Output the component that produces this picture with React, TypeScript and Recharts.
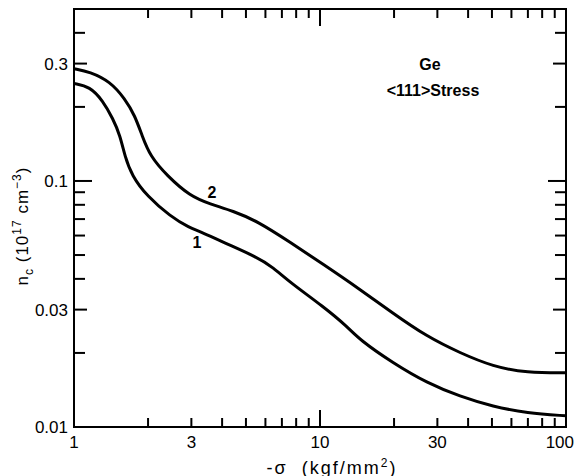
import React from 'react';
import { LineChart, Line, XAxis, YAxis, ReferenceArea } from 'recharts';

// values (log-log)
const curve1 = [
  { s: 1, n: 0.249 }, { s: 1.16, n: 0.242 }, { s: 1.31, n: 0.212 }, { s: 1.44, n: 0.179 },
  { s: 1.54, n: 0.153 }, { s: 1.61, n: 0.126 }, { s: 1.72, n: 0.105 }, { s: 1.98, n: 0.0868 },
  { s: 2.46, n: 0.0719 }, { s: 2.96, n: 0.0643 }, { s: 3.25, n: 0.0625 }, { s: 4.03, n: 0.0564 },
  { s: 5.55, n: 0.049 }, { s: 6.44, n: 0.0446 }, { s: 7.55, n: 0.0387 }, { s: 10.3, n: 0.0309 },
  { s: 12.9, n: 0.0256 }, { s: 14.5, n: 0.0226 }, { s: 19.8, n: 0.0182 }, { s: 27.2, n: 0.0151 },
  { s: 37.1, n: 0.0133 }, { s: 50.5, n: 0.0121 }, { s: 69.4, n: 0.0114 }, { s: 100, n: 0.0111 },
];

const curve2 = [
  { s: 1, n: 0.286 }, { s: 1.16, n: 0.278 }, { s: 1.4, n: 0.254 }, { s: 1.61, n: 0.216 },
  { s: 1.77, n: 0.184 }, { s: 1.89, n: 0.153 }, { s: 2.04, n: 0.126 }, { s: 2.39, n: 0.105 },
  { s: 2.96, n: 0.0868 }, { s: 3.57, n: 0.0806 }, { s: 4.43, n: 0.0755 }, { s: 5.55, n: 0.0687 },
  { s: 7.55, n: 0.0564 }, { s: 10.3, n: 0.0459 }, { s: 14.3, n: 0.0367 }, { s: 19.6, n: 0.0292 },
  { s: 27.2, n: 0.0233 }, { s: 37.1, n: 0.02 }, { s: 50.5, n: 0.0176 }, { s: 69.4, n: 0.0166 },
  { s: 100, n: 0.0166 },
];

// text placed at data positions
const notes = [
  { s: 3.16, n: 0.0564, text: '1' },
  { s: 3.64, n: 0.0902, text: '2' },
  { s: 28, n: 0.3, text: 'Ge' },
  { s: 28.8, n: 0.235, text: '<111>Stress' },
];

const xTicks = [1, 2, 3, 4, 5, 6, 7, 8, 9, 10, 20, 30, 40, 50, 60, 70, 80, 90, 100];
const xLabels = [1, 3, 10, 30, 100];
const yTicks = [0.01, 0.02, 0.03, 0.04, 0.05, 0.06, 0.07, 0.08, 0.09, 0.1, 0.2, 0.3, 0.4];
const yLabels = [0.01, 0.03, 0.1, 0.3];

const X_MIN = 1, X_MAX = 100, Y_MIN = 0.01, Y_MAX = 0.5;

// one table on the shared x values, so every series reads the chart data
const sValues = Array.from(new Set([...curve1, ...curve2, ...notes].map((p) => p.s))).sort((a, b) => a - b);
const table = sValues.map((s) => {
  const p1 = curve1.find((p) => p.s === s);
  const p2 = curve2.find((p) => p.s === s);
  const pn = notes.find((p) => p.s === s);
  return { s, c1: p1 ? p1.n : null, c2: p2 ? p2.n : null, note: pn ? pn.n : null, text: pn ? pn.text : '' };
});

const FONT = '"Liberation Sans", Arial, sans-serif';

const isDecade = (v: number) => Math.abs(Math.log10(v) - Math.round(Math.log10(v))) < 1e-6;
const xLen = (v: number) => (isDecade(v) ? 17 : 9);
const yLen = (v: number) => (isDecade(v) ? 18 : yLabels.includes(v) ? 13 : 11);

// inward ticks on all four sides
const bottomTick = (props: any) => {
  const x = Number(props.x);
  const y = Number(props.y);
  const v = props.payload.value;
  return (
    <g>
      <path d={`M${x},${y}L${x},${y - xLen(v)}`} stroke="#000" strokeWidth={2} fill="none" />
      {xLabels.includes(v) ? (
        <text x={v === 100 ? x + 8 : x} y={y + 21} textAnchor={v === 100 ? 'end' : 'middle'}
          fontSize={17} fontFamily={FONT} fill="#000">{v}</text>
      ) : null}
    </g>
  );
};

const topTick = (props: any) => {
  const x = Number(props.x);
  const y = Number(props.y);
  const v = props.payload.value;
  return <path d={`M${x},${y}L${x},${y + xLen(v)}`} stroke="#000" strokeWidth={2} fill="none" />;
};

const leftTick = (props: any) => {
  const x = Number(props.x);
  const y = Number(props.y);
  const v = props.payload.value;
  return (
    <g>
      <path d={`M${x},${y}L${x + yLen(v)},${y}`} stroke="#000" strokeWidth={2} fill="none" />
      {yLabels.includes(v) ? (
        <text x={x - 6} y={y + 6} textAnchor="end" fontSize={17} fontFamily={FONT} fill="#000">{v}</text>
      ) : null}
    </g>
  );
};

const rightTick = (props: any) => {
  const x = Number(props.x);
  const y = Number(props.y);
  const v = props.payload.value;
  return <path d={`M${x},${y}L${x - yLen(v)},${y}`} stroke="#000" strokeWidth={2} fill="none" />;
};

const NoteDot = (props: any) => {
  const { cx, cy, payload } = props;
  if (!payload || !payload.text || cx == null || cy == null) return <g />;
  return (
    <text x={cx} y={cy + 6} textAnchor="middle" fontSize={16} fontWeight="bold"
      fontFamily={FONT} fill="#000">{payload.text}</text>
  );
};

export default function App() {
  return (
    <div style={{ position: 'absolute', left: 0, top: 0, width: 574, height: 476, background: '#fff' }}>
      <LineChart width={574} height={476} data={table} margin={{ top: 8, right: 7, bottom: 19, left: 0 }}>
        <XAxis dataKey="s" type="number" scale="log" domain={[X_MIN, X_MAX]} allowDataOverflow
          ticks={xTicks} interval={0} tickSize={0} tickMargin={0} tickLine={false}
          tick={bottomTick} height={30} axisLine={false} />
        <XAxis xAxisId="top" orientation="top" dataKey="s" type="number" scale="log"
          domain={[X_MIN, X_MAX]} allowDataOverflow ticks={xTicks} interval={0} tickSize={0}
          tickMargin={0} tickLine={false} tick={topTick} height={1} axisLine={false} />
        <YAxis type="number" scale="log" domain={[Y_MIN, Y_MAX]} allowDataOverflow
          ticks={yTicks} interval={0} tickSize={0} tickMargin={0} tickLine={false}
          tick={leftTick} width={74} axisLine={false} />
        <YAxis yAxisId="right" orientation="right" type="number" scale="log"
          domain={[Y_MIN, Y_MAX]} allowDataOverflow ticks={yTicks} interval={0} tickSize={0}
          tickMargin={0} tickLine={false} tick={rightTick} width={1} axisLine={false} />
        <ReferenceArea x1={X_MIN} x2={X_MAX} y1={Y_MIN} y2={Y_MAX} fill="none" fillOpacity={0}
          stroke="#000" strokeWidth={2} ifOverflow="visible" />
        <Line dataKey="c1" type="basis" stroke="#000" strokeWidth={3} connectNulls
          dot={false} activeDot={false} isAnimationActive={false} />
        <Line dataKey="c2" type="basis" stroke="#000" strokeWidth={3} connectNulls
          dot={false} activeDot={false} isAnimationActive={false} />
        <Line dataKey="note" stroke="none" strokeWidth={0}
          dot={<NoteDot />} activeDot={false} isAnimationActive={false} />
      </LineChart>
      <div style={{
        position: 'absolute', left: 23, top: 226, transform: 'translate(-50%, -50%) rotate(-90deg)',
        whiteSpace: 'nowrap', fontFamily: FONT, fontSize: 17, letterSpacing: 1, lineHeight: '20px',
      }}>
        n<sub style={{ fontSize: 12 }}>c</sub> (10<sup style={{ fontSize: 12 }}>17</sup> cm<sup style={{ fontSize: 12 }}>−3</sup>)
      </div>
      <div style={{
        position: 'absolute', left: 332, top: 465, transform: 'translate(-50%, -50%)',
        whiteSpace: 'nowrap', fontFamily: FONT, fontSize: 18, letterSpacing: 2, lineHeight: '20px',
      }}>
        -σ&nbsp;&nbsp;(kgf/mm<sup style={{ fontSize: 12 }}>2</sup>)
      </div>
    </div>
  );
}
